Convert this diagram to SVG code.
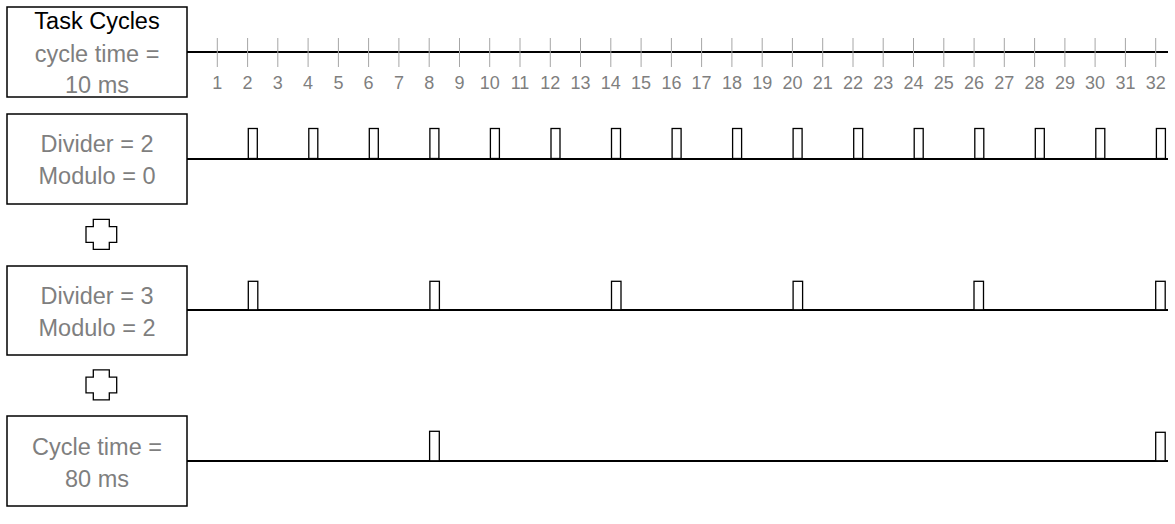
<svg xmlns="http://www.w3.org/2000/svg" width="1175" height="524" viewBox="0 0 1175 524">
<style>
.box{fill:#fff;stroke:#000;stroke-width:1.5}
.t{font-family:"Liberation Sans",Arial,sans-serif;font-size:23.5px;text-anchor:middle;fill:#7f7f7f}
.k{fill:#000}
.n{font-family:"Liberation Sans",Arial,sans-serif;font-size:18px;text-anchor:middle;fill:#7f7f7f}
.axis{stroke:#000;stroke-width:2;fill:none}
.tick{stroke:#a6a6a6;stroke-width:1}
.p{fill:#fff;stroke:#000;stroke-width:1.3}
.plus{fill:#fff;stroke:#000;stroke-width:1.3}
</style>
<rect width="1175" height="524" fill="#fff"/>
<g id="connectors">
<line class="axis" x1="187" y1="52" x2="1168" y2="52"/>
<line class="axis" x1="187" y1="159" x2="1168" y2="159"/>
<line class="axis" x1="187" y1="310" x2="1168" y2="310"/>
<line class="axis" x1="187" y1="461" x2="1168" y2="461"/>
</g>
<g id="ticks">
<g class="tick">
<line x1="217.3" y1="38" x2="217.3" y2="67"/><line x1="247.6" y1="38" x2="247.6" y2="67"/><line x1="277.8" y1="38" x2="277.8" y2="67"/><line x1="308.1" y1="38" x2="308.1" y2="67"/><line x1="338.4" y1="38" x2="338.4" y2="67"/><line x1="368.6" y1="38" x2="368.6" y2="67"/><line x1="398.9" y1="38" x2="398.9" y2="67"/><line x1="429.2" y1="38" x2="429.2" y2="67"/><line x1="459.5" y1="38" x2="459.5" y2="67"/><line x1="489.7" y1="38" x2="489.7" y2="67"/><line x1="520" y1="38" x2="520" y2="67"/><line x1="550.3" y1="38" x2="550.3" y2="67"/><line x1="580.5" y1="38" x2="580.5" y2="67"/><line x1="610.8" y1="38" x2="610.8" y2="67"/><line x1="641.1" y1="38" x2="641.1" y2="67"/><line x1="671.4" y1="38" x2="671.4" y2="67"/><line x1="701.6" y1="38" x2="701.6" y2="67"/><line x1="731.9" y1="38" x2="731.9" y2="67"/><line x1="762.2" y1="38" x2="762.2" y2="67"/><line x1="792.4" y1="38" x2="792.4" y2="67"/><line x1="822.7" y1="38" x2="822.7" y2="67"/><line x1="853" y1="38" x2="853" y2="67"/><line x1="883.2" y1="38" x2="883.2" y2="67"/><line x1="913.5" y1="38" x2="913.5" y2="67"/><line x1="943.8" y1="38" x2="943.8" y2="67"/><line x1="974.1" y1="38" x2="974.1" y2="67"/><line x1="1004.3" y1="38" x2="1004.3" y2="67"/><line x1="1034.6" y1="38" x2="1034.6" y2="67"/><line x1="1064.9" y1="38" x2="1064.9" y2="67"/><line x1="1095.1" y1="38" x2="1095.1" y2="67"/><line x1="1125.4" y1="38" x2="1125.4" y2="67"/><line x1="1155.7" y1="38" x2="1155.7" y2="67"/>
</g>
<g class="n">
<text x="217.3" y="89">1</text><text x="247.6" y="89">2</text><text x="277.8" y="89">3</text><text x="308.1" y="89">4</text><text x="338.4" y="89">5</text><text x="368.6" y="89">6</text><text x="398.9" y="89">7</text><text x="429.2" y="89">8</text><text x="459.5" y="89">9</text><text x="489.7" y="89">10</text><text x="520" y="89">11</text><text x="550.3" y="89">12</text><text x="580.5" y="89">13</text><text x="610.8" y="89">14</text><text x="641.1" y="89">15</text><text x="671.4" y="89">16</text><text x="701.6" y="89">17</text><text x="731.9" y="89">18</text><text x="762.2" y="89">19</text><text x="792.4" y="89">20</text><text x="822.7" y="89">21</text><text x="853" y="89">22</text><text x="883.2" y="89">23</text><text x="913.5" y="89">24</text><text x="943.8" y="89">25</text><text x="974.1" y="89">26</text><text x="1004.3" y="89">27</text><text x="1034.6" y="89">28</text><text x="1064.9" y="89">29</text><text x="1095.1" y="89">30</text><text x="1125.4" y="89">31</text><text x="1155.7" y="89">32</text>
</g>
</g>
<g id="pulses-div2">
<g class="p">
<rect x="248.3" y="128.5" width="9" height="30"/><rect x="308.8" y="128.5" width="9" height="30"/><rect x="369.3" y="128.5" width="9" height="30"/><rect x="429.9" y="128.5" width="9" height="30"/><rect x="490.4" y="128.5" width="9" height="30"/><rect x="551" y="128.5" width="9" height="30"/><rect x="611.5" y="128.5" width="9" height="30"/><rect x="672.1" y="128.5" width="9" height="30"/><rect x="732.6" y="128.5" width="9" height="30"/><rect x="793.1" y="128.5" width="9" height="30"/><rect x="853.7" y="128.5" width="9" height="30"/><rect x="914.2" y="128.5" width="9" height="30"/><rect x="974.8" y="128.5" width="9" height="30"/><rect x="1035.3" y="128.5" width="9" height="30"/><rect x="1095.8" y="128.5" width="9" height="30"/><rect x="1156.4" y="128.5" width="9" height="30"/>
</g>
</g>
<g id="pulses-div3">
<g class="p">
<rect x="248.3" y="281.3" width="9.5" height="28.5"/><rect x="429.9" y="281.3" width="9.5" height="28.5"/><rect x="611.5" y="281.3" width="9.5" height="28.5"/><rect x="793.1" y="281.3" width="9.5" height="28.5"/><rect x="974" y="281.3" width="9.5" height="28.5"/><rect x="1155.7" y="281.3" width="9.5" height="28.5"/>
</g>
</g>
<g id="pulses-80ms">
<g class="p">
<rect x="429.6" y="431.3" width="9.7" height="29.5"/><rect x="1155.7" y="432.3" width="9.5" height="28.5"/>
</g>
</g>
<g id="box-task-cycles">
<rect class="box" x="7" y="7" width="180" height="90"/>
<text class="t k" x="97" y="29">Task Cycles</text>
<text class="t" x="97" y="61.5">cycle time =</text>
<text class="t" x="97" y="93">10 ms</text>
</g>
<g id="box-div2">
<rect class="box" x="7" y="114" width="180" height="90"/>
<text class="t" x="97" y="151.5">Divider = 2</text>
<text class="t" x="97" y="183.5">Modulo = 0</text>
</g>
<g id="plus1">
<path class="plus" d="M93.3 219.3 H109.3 V226.7 H116.7 V242.3 H109.3 V249.3 H93.3 V242.3 H86 V226.7 H93.3 Z"/>
</g>
<g id="box-div3">
<rect class="box" x="7" y="266" width="180" height="89"/>
<text class="t" x="97" y="303.5">Divider = 3</text>
<text class="t" x="97" y="335.5">Modulo = 2</text>
</g>
<g id="plus2">
<path class="plus" d="M93.3 369.8 H109.3 V377.2 H116.7 V392.8 H109.3 V399.8 H93.3 V392.8 H86 V377.2 H93.3 Z"/>
</g>
<g id="box-80ms">
<rect class="box" x="7" y="416" width="180" height="90"/>
<text class="t" x="97" y="454.5">Cycle time =</text>
<text class="t" x="97" y="486.5">80 ms</text>
</g>
</svg>
